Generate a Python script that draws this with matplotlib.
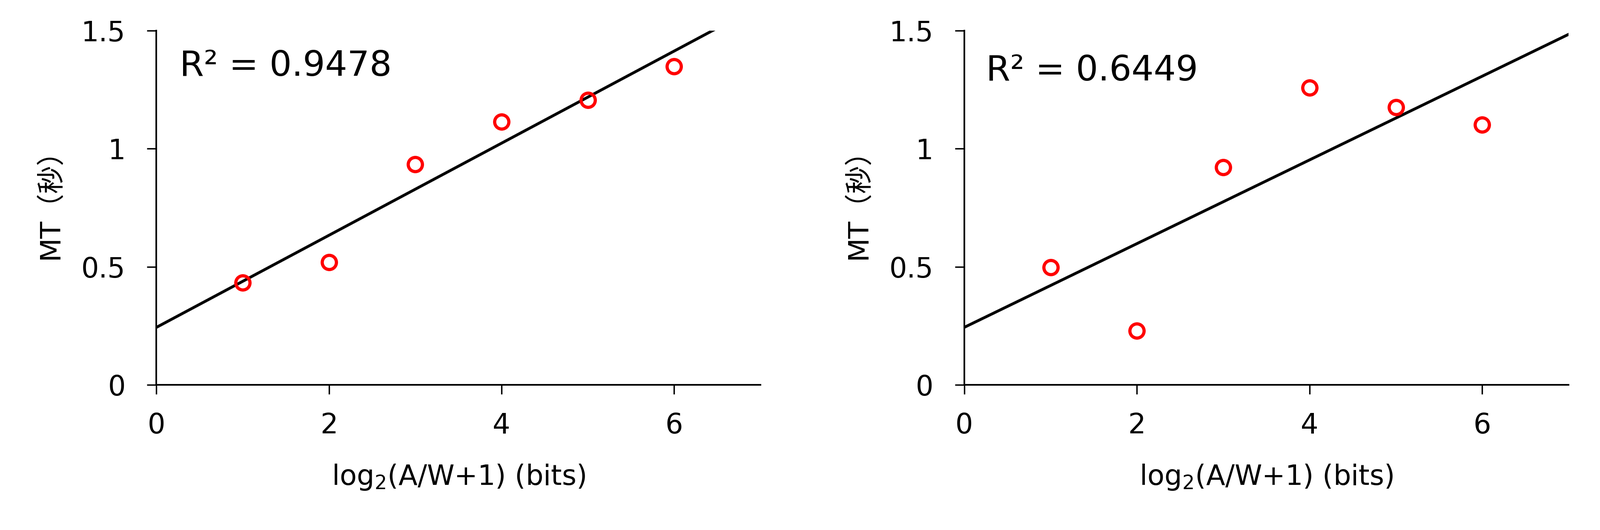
import numpy as np
import matplotlib
matplotlib.use("Agg")
import matplotlib.pyplot as plt

plt.rcParams['font.family'] = ['DejaVu Sans', 'Noto Sans CJK JP']

# index of difficulty (bits)
bits = [1, 2, 3, 4, 5, 6]
# movement time (s), left and right panels
mt_left = [0.432, 0.519, 0.934, 1.115, 1.206, 1.349]
mt_right = [0.497, 0.229, 0.921, 1.258, 1.176, 1.102]
r2_labels = ["R² = 0.9478", "R² = 0.6449"]
xticks = [0, 2, 4, 6]
yticks = [0, 0.5, 1, 1.5]
ytick_labels = ["0", "0.5", "1", "1.5"]

fig = plt.figure(figsize=(18.79, 6.225), dpi=200)
axes_pos = [[0.0977, 0.2739, 0.3776, 0.6683],
            [0.6027, 0.2739, 0.3776, 0.6683]]
text_pos = [(0.27, 1.35), (0.25, 1.33)]

for pos, mt, r2, tp in zip(axes_pos, [mt_left, mt_right], r2_labels, text_pos):
    ax = fig.add_axes(pos)
    x = np.array(bits, dtype=float)
    y = np.array(mt)
    slope, icpt = np.polyfit(x, y, 1)
    xl = np.linspace(0, 7, 50)
    ax.plot(xl, slope * xl + icpt, color='black', lw=2.4, zorder=2)
    ax.plot(x, y, 'o', mfc='none', mec='red', ms=12, mew=2.7, zorder=3)
    ax.text(tp[0], tp[1], r2, fontsize=29.5, ha='left', va='center')

    ax.set_xlim(0, 7)
    ax.set_ylim(0, 1.5)
    ax.set_xticks(xticks)
    ax.set_yticks(yticks)
    ax.set_yticklabels(ytick_labels)
    for s in ['top', 'right']:
        ax.spines[s].set_visible(False)
    for s in ['left', 'bottom']:
        ax.spines[s].set_linewidth(1.4)
    ax.tick_params(axis='y', length=8, width=1.2, pad=18, labelsize=23.5)
    ax.tick_params(axis='x', length=8, width=1.2, pad=15, labelsize=23.5)
    ax.set_xlabel("log$_2$(A/W+1) (bits)", fontsize=23.5, labelpad=20)
    ax.set_ylabel("MT（秒）", fontsize=23.5)
    # place the label centred like the reference
    ax.yaxis.set_label_coords(-0.152, 0.53)

fig.savefig("out.png", dpi=200)
